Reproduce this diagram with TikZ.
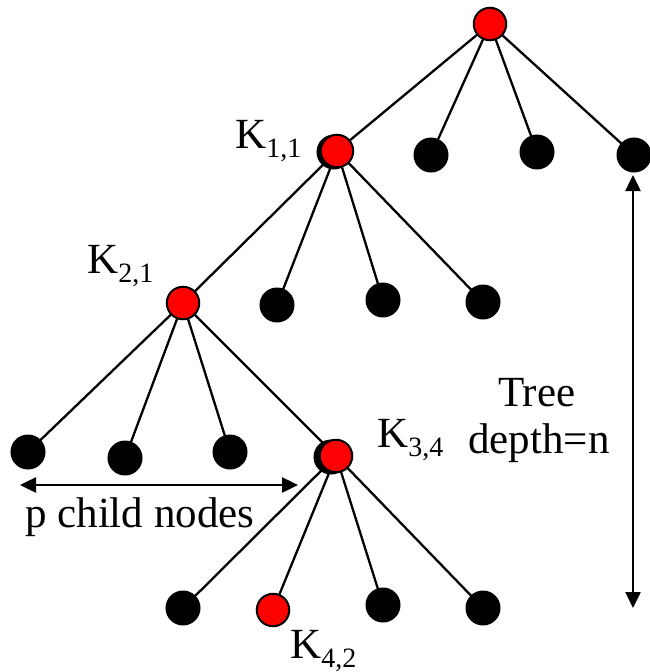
\documentclass[tikz,border=0pt]{standalone}
\usepackage{fontspec}
\setmainfont{Liberation Serif}
\usetikzlibrary{arrows.meta}
\begin{document}
\begin{tikzpicture}[x=1pt,y=-1pt,
  blk/.style={circle,fill=black,draw=black,line width=1.5pt,minimum size=33.5pt,inner sep=0pt},
  red/.style={circle,fill=red,draw=black,line width=2pt,minimum size=32.5pt,inner sep=0pt},
  edge/.style={line width=2.3pt},
  dim/.style={line width=2.5pt,{Triangle[length=16pt,width=15pt]}-{Triangle[length=16pt,width=15pt]}},
  lab/.style={font=\fontsize{43}{43}\selectfont,anchor=base west,inner sep=0pt},
]
\useasboundingbox (0,0) rectangle (650,672);
\newcommand{\sbs}[1]{{\fontsize{28}{28}\selectfont\raisebox{-9pt}{#1}}}
% coordinates
\coordinate (r) at (490,24);
\coordinate (k11) at (337,151);
\coordinate (a2) at (431,155);
\coordinate (a3) at (537,152);
\coordinate (a4) at (634,155);
\coordinate (k21) at (183,303);
\coordinate (b2) at (277,305);
\coordinate (b3) at (383,300);
\coordinate (b4) at (483,302);
\coordinate (c1) at (28,452);
\coordinate (c2) at (125,458);
\coordinate (c3) at (230,452);
\coordinate (k34) at (336,456);
\coordinate (d1) at (183,608);
\coordinate (k42) at (273,610);
\coordinate (d3) at (383,605);
\coordinate (d4) at (483,608);
% edges
\foreach \c in {k11,a2,a3,a4} \draw[edge] (r) -- (\c);
\foreach \c in {k21,b2,b3,b4} \draw[edge] (k11) -- (\c);
\foreach \c in {c1,c2,c3,k34} \draw[edge] (k21) -- (\c);
\foreach \c in {d1,k42,d3,d4} \draw[edge] (k34) -- (\c);
% nodes
\node[red] (nr) at (r) {};
\node[blk] (sk11) at ([xshift=-3pt,yshift=-1pt]k11) {};
\node[red] (nk11) at (k11) {};
\foreach \c in {a2,a3,a4,b2,b3,b4,c1,c2,c3,d1,d3,d4} \node[blk] (n\c) at (\c) {};
\node[red] (nk21) at (k21) {};
\node[blk] (sk34) at ([xshift=-5pt,yshift=-1pt]k34) {};
\node[red] (nk34) at (k34) {};
\node[red] (nk42) at (k42) {};
% labels
\node[lab] (l11) at (235,148) {K\sbs{1,1}};
\node[lab] (l21) at (87,273) {K\sbs{2,1}};
\node[lab] (l34) at (377,447) {K\sbs{3,4}};
\node[lab] (l42) at (290,658) {K\sbs{4,2}};
\node[lab] (tree) at (498,406) {Tree};
\node[lab] (depth) at (468,453) {depth=n};
\node[lab] (pcn) at (25,527) {p child nodes};
% dimension arrows
\coordinate (v1) at (633,175);
\coordinate (v2) at (633,608);
\draw[dim] (v1) -- (v2);
\coordinate (h1) at (20,485);
\coordinate (h2) at (298,485);
\draw[dim] (h1) -- (h2);
\end{tikzpicture}
\end{document}
